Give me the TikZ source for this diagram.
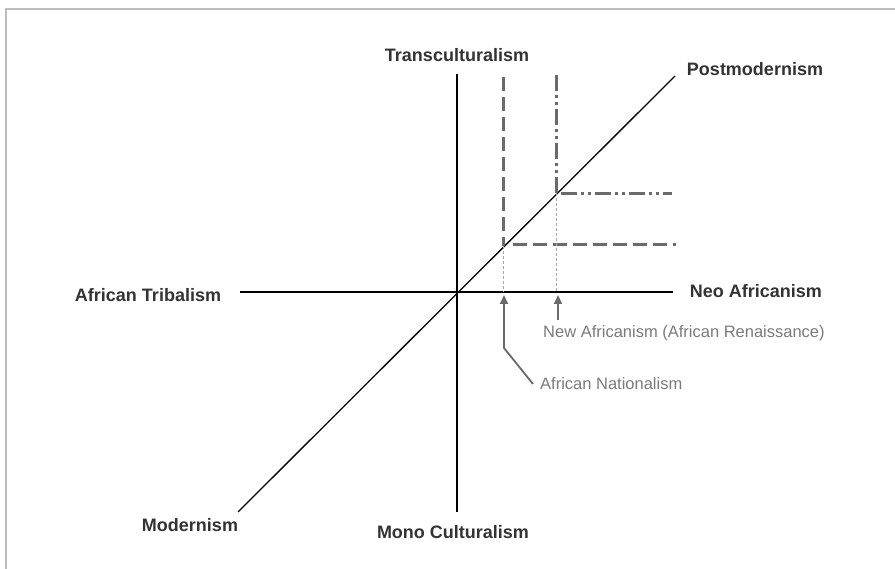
\documentclass[tikz,border=0pt]{standalone}
\usepackage{fontspec}
\setmainfont{Liberation Sans}
\usetikzlibrary{arrows.meta}
\definecolor{labeltext}{HTML}{333333}
\definecolor{notetext}{HTML}{7A7A7A}
\definecolor{thickgray}{HTML}{6A6A6A}
\definecolor{thingray}{HTML}{A8A8A8}
\definecolor{framegray}{HTML}{BDBDBD}
\tikzset{
  axisline/.style={line width=1.3pt, black},
  bigdash/.style={line width=3pt, thickgray, dash pattern=on 14pt off 6pt},
  bigdashdot/.style={line width=3pt, thickgray, dash pattern=on 16pt off 4pt on 3pt off 4pt on 3pt off 4pt},
  guide/.style={line width=0.9pt, thingray, dash pattern=on 3pt off 2pt},
  pointer/.style={line width=1.8pt, thickgray, -{Triangle[length=9pt,width=8pt]}},
  axislabel/.style={font=\fontsize{18}{20}\selectfont\bfseries, text=labeltext, inner sep=0pt},
  notelabel/.style={font=\fontsize{16.5}{19}\selectfont, text=notetext, inner sep=0pt, anchor=base west}
}
\begin{document}
\begin{tikzpicture}[x=1pt,y=-1pt]
\useasboundingbox (0,0) rectangle (895,569);
% frame
\draw[framegray, line width=1.5pt] (6,600) -- (6,9) -- (920,9);
% axes coordinates
\coordinate (vtop) at (457,74);
\coordinate (vbot) at (457,512);
\coordinate (hleft) at (240,292);
\coordinate (hright) at (673,292);
\coordinate (dlow) at (238,512);
\coordinate (dhigh) at (675,76);
\draw[axisline] (vtop) -- (vbot);
\draw[axisline] (hleft) -- (hright);
\draw[axisline] (dlow) -- (dhigh);
% dashed bracket (African Nationalism)
\coordinate (natTop) at (503,77);
\coordinate (natCorner) at (503,246);
\coordinate (natHstart) at (513,245);
\coordinate (natHend) at (676,245);
\coordinate (natAxis) at (503,292);
\draw[bigdash] (natTop) -- (natCorner);
\draw[bigdash] (natHstart) -- (natHend);
\draw[guide] (natCorner) -- (natAxis);
% dash-dot bracket (New Africanism)
\coordinate (newTop) at (556,75);
\coordinate (newCorner) at (556,193);
\coordinate (newHstart) at (561,194);
\coordinate (newHend) at (672,194);
\coordinate (newAxis) at (556,292);
\draw[bigdashdot] (newTop) -- (newCorner);
\draw[bigdashdot] (newHstart) -- (newHend);
\draw[guide] (newCorner) -- (newAxis);
% axis labels
\node[axislabel] (trans) at (457,55) {Transculturalism};
\node[axislabel] (post) at (755,69) {Postmodernism};
\node[axislabel] (trib) at (148,295) {African Tribalism};
\node[axislabel] (neo) at (756,291) {Neo Africanism};
\node[axislabel] (mod) at (190,525) {Modernism};
\node[axislabel] (mono) at (453,532) {Mono Culturalism};
% notes
\node[notelabel] (newaf) at (543,338) {New Africanism (African Renaissance)};
\node[notelabel] (natl) at (540,390) {African Nationalism};
\coordinate (newArrowStart) at (558,320);
\coordinate (newArrowTip) at (558,295);
\draw[pointer] (newArrowStart) -- (newArrowTip);
\coordinate (natArrowStart) at (533,384);
\coordinate (natArrowBend) at (504,348);
\coordinate (natArrowTip) at (504,295);
\draw[pointer] (natArrowStart) -- (natArrowBend) -- (natArrowTip);
\end{tikzpicture}
\end{document}
